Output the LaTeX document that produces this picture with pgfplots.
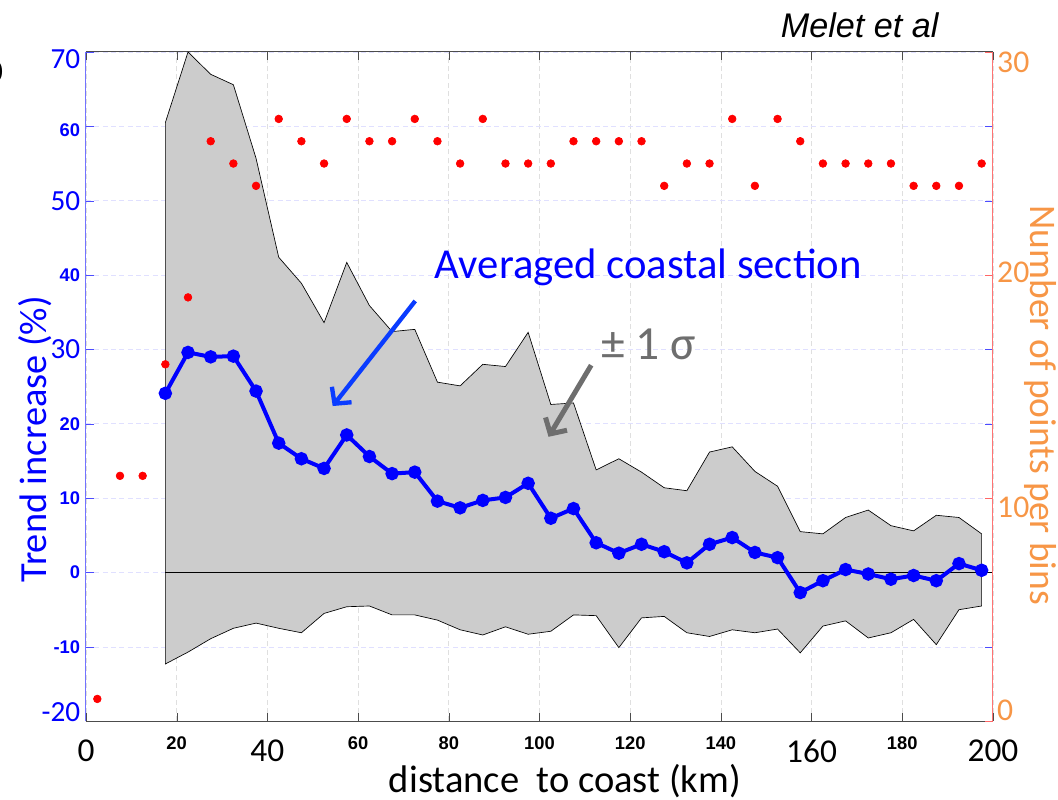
\documentclass[border=0pt]{standalone}
\usepackage{fontspec}
\setmainfont{Carlito}
\newfontfamily\arial{Liberation Sans}
\usepackage{pgfplots}
\usepackage{pgfplotstable}
\pgfplotsset{compat=1.18}
\usetikzlibrary{arrows.meta}

\definecolor{tblue}{RGB}{0,0,255}
\definecolor{torange}{RGB}{247,150,70}
\definecolor{band}{RGB}{204,204,204}
\definecolor{arrblue}{RGB}{10,60,255}
\definecolor{arrgray}{RGB}{110,110,110}

% shift a label without changing its box
\newcommand\UP[2]{\raisebox{#1}[\height][\depth]{#2}}
% two kinds of tick labels, as in the overlaid original
\newcommand\LT[1]{{\fontsize{17.5}{17.5}\selectfont #1}}
\newcommand\LX[1]{\UP{-2.4pt}{\fontsize{20}{20}\selectfont #1}}
\newcommand\SB[1]{{\arial\bfseries\fontsize{11}{11}\selectfont #1}}

% mean trend increase per 5 km bin
\pgfplotstableread{
x m
17.5 24.1
22.5 29.6
27.5 29.0
32.5 29.1
37.5 24.4
42.5 17.4
47.5 15.3
52.5 14.0
57.5 18.5
62.5 15.6
67.5 13.3
72.5 13.5
77.5 9.6
82.5 8.7
87.5 9.7
92.5 10.1
97.5 12.0
102.5 7.3
107.5 8.6
112.5 4.0
117.5 2.6
122.5 3.8
127.5 2.8
132.5 1.3
137.5 3.8
142.5 4.7
147.5 2.7
152.5 2.0
157.5 -2.7
162.5 -1.1
167.5 0.4
172.5 -0.2
177.5 -0.9
182.5 -0.4
187.5 -1.1
192.5 1.2
197.5 0.3
}\meantab

% number of points per bin
\pgfplotstableread{
x n
2.5 1
7.5 11
12.5 11
17.5 16
22.5 19
27.5 26
32.5 25
37.5 24
42.5 27
47.5 26
52.5 25
57.5 27
62.5 26
67.5 26
72.5 27
77.5 26
82.5 25
87.5 27
92.5 25
97.5 25
102.5 25
107.5 26
112.5 26
117.5 26
122.5 26
127.5 24
132.5 25
137.5 25
142.5 27
147.5 24
152.5 27
157.5 26
162.5 25
167.5 25
172.5 25
177.5 25
182.5 24
187.5 24
192.5 24
197.5 25
}\cnttab

\begin{document}
\begin{tikzpicture}
\begin{axis}[
  scale only axis, width=544pt, height=401.4pt,
  xmin=0, xmax=200, ymin=-20, ymax=70,
  xtick={0,20,...,200}, ytick={-20,-10,...,70},
  xticklabels={\LX{0},\SB{20},\LX{40},\SB{60},\SB{80},\SB{100},\SB{120},\SB{140},\LX{160},\SB{180},\LX{200}},
  yticklabels={\UP{5.4pt}{\LT{-20}},\SB{-10},\SB{0},\SB{10},\SB{20},\LT{30},\SB{40},\LT{50},\UP{-2.4pt}{\SB{60}},\UP{-4.2pt}{\LT{70}}},
  xticklabel style={black, yshift=-5.5pt},
  yticklabel style={tblue},
  tick align=inside, major tick length=5pt,
  xtick style={gray!60!black}, ytick style={blue!70},
  separate axis lines,
  x axis line style={gray!60!black, line width=0.6pt},
  y axis line style={blue!55, line width=0.6pt},
  grid=major,
  x grid style={densely dashed, gray!25},
  y grid style={densely dashed, blue!12},
  clip mode=individual,
]
\addplot[fill=band, draw=black, line width=0.4pt] coordinates {
(17.5,60.5) (22.5,70) (27.5,67) (32.5,65.6) (37.5,55.7) (42.5,42.4) (47.5,38.9)
(52.5,33.6) (57.5,41.7) (62.5,35.9) (67.5,32.4) (72.5,32.7) (77.5,25.6) (82.5,25.1)
(87.5,28.0) (92.5,27.7) (97.5,32.3) (102.5,22.6) (107.5,22.8) (112.5,13.8) (117.5,15.3)
(122.5,13.5) (127.5,11.4) (132.5,11.0) (137.5,16.2) (142.5,16.9) (147.5,13.6) (152.5,11.6)
(157.5,5.5) (162.5,5.2) (167.5,7.4) (172.5,8.4) (177.5,6.3) (182.5,5.6) (187.5,7.7)
(192.5,7.4) (197.5,5.2)
(197.5,-4.5) (192.5,-5.0) (187.5,-9.7) (182.5,-6.3) (177.5,-8.1) (172.5,-8.8) (167.5,-6.5)
(162.5,-7.2) (157.5,-10.8) (152.5,-7.6) (147.5,-8.1) (142.5,-7.7) (137.5,-8.6) (132.5,-8.1)
(127.5,-5.9) (122.5,-6.1) (117.5,-10.1) (112.5,-5.8) (107.5,-5.7) (102.5,-7.9) (97.5,-8.3)
(92.5,-7.3) (87.5,-8.4) (82.5,-7.7) (77.5,-6.4) (72.5,-5.7) (67.5,-5.7) (62.5,-4.5)
(57.5,-4.6) (52.5,-5.5) (47.5,-8.1) (42.5,-7.5) (37.5,-6.8) (32.5,-7.5) (27.5,-8.9)
(22.5,-10.7) (17.5,-12.3)
} -- cycle;
\addplot[black, line width=0.5pt] coordinates {(17.5,0) (200,0)};
\addplot[tblue, line width=2.4pt, mark=*, mark size=2.8pt] table[x=x, y=m] {\meantab};

\node[tblue, rotate=90, font=\fontsize{23}{23}\selectfont] at (rel axis cs:-0.056,0.4215) {Trend increase (\%)};
\node[font=\fontsize{23.1}{23.1}\selectfont] at (rel axis cs:0.528,-0.090) {distance\ \ to coast (km)};
\node[anchor=east, font=\fontsize{20}{20}\selectfont] at (rel axis cs:-0.0849,0.970) {0};
\end{axis}

\begin{axis}[
  scale only axis, width=544pt, height=401.4pt,
  xmin=0, xmax=200, ymin=0, ymax=30,
  axis y line*=right, axis x line=none,
  ytick={0,10,20,30},
  yticklabels={\UP{6.5pt}{0},\UP{-5.4pt}{10},\UP{1.8pt}{20},\UP{-6pt}{30}},
  yticklabel style={torange, font=\fontsize{19}{19}\selectfont, xshift=-1pt},
  tick align=inside, major tick length=5pt,
  ytick style={red!60},
  y axis line style={red!55, line width=0.6pt},
  clip mode=individual,
]
\addplot[only marks, mark=*, red, mark size=2.3pt] table[x=x, y=n] {\cnttab};

% the original cuts the lower part of the middle tick labels
\fill[white] (rel axis cs:0.269,-0.0425) rectangle (rel axis cs:0.655,-0.0583);

\node[torange, rotate=-90, font=\fontsize{22.5}{22.5}\selectfont] at (rel axis cs:1.052,0.472) {Number of points per bins};
\node[font=\arial\itshape\fontsize{20.5}{20.5}\selectfont] at (rel axis cs:0.853,1.040) {Melet et al};

\node[tblue, font=\fontsize{25.6}{25.6}\selectfont] at (rel axis cs:0.620,0.678) {Averaged coastal section};
\node[arrgray, font=\fontsize{28.5}{28.5}\selectfont] at (rel axis cs:0.620,0.563) {± 1 σ};
\draw[arrblue, line width=2.6pt, -{Straight Barb[length=7pt, width=15pt]}] (rel axis cs:0.363,0.628) -- (rel axis cs:0.272,0.471);
\draw[arrgray, line width=3pt, -{Straight Barb[length=7pt, width=15pt]}] (rel axis cs:0.557,0.532) -- (rel axis cs:0.510,0.425);

\coordinate (bl) at (rel axis cs:-0.0948,-0.1166);
\coordinate (tr) at (rel axis cs:1.0717,1.0777);
\end{axis}
\pgfresetboundingbox
\path[use as bounding box] (bl) rectangle (tr);
\end{tikzpicture}
\end{document}
